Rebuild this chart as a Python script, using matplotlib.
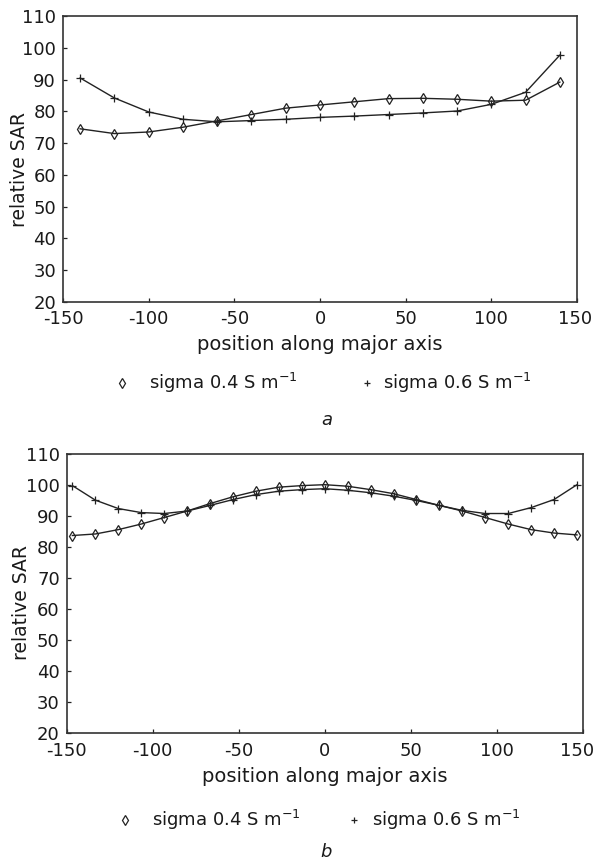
import matplotlib
matplotlib.use("Agg")
import matplotlib.pyplot as plt
from matplotlib.lines import Line2D
from matplotlib.transforms import ScaledTranslation

plt.rcParams['font.family'] = ['DejaVu Sans']

# ---- Panel a data ----
x_a = [-140, -120, -100, -80, -60, -40, -20, 0, 20, 40, 60, 80, 100, 120, 140]
sar_a_s04 = [74.5, 73.0, 73.5, 75.0, 77.0, 79.0, 81.0, 82.0, 83.0, 84.0, 84.1, 83.8, 83.2, 83.5, 89.2]
sar_a_s06 = [90.5, 84.2, 79.8, 77.5, 76.7, 77.1, 77.5, 78.1, 78.5, 79.0, 79.5, 80.1, 82.2, 86.0, 97.7]

# ---- Panel b data ----
x_b = [-146.7, -133.3, -120.0, -106.7, -93.3, -80.0, -66.7, -53.3, -40.0, -26.7, -13.3, 0.0,
       13.3, 26.7, 40.0, 53.3, 66.7, 80.0, 93.3, 106.7, 120.0, 133.3, 146.7]
sar_b_s04 = [83.8, 84.3, 85.7, 87.5, 89.6, 91.7, 94.1, 96.3, 98.1, 99.4, 99.9, 100.2,
             99.7, 98.6, 97.3, 95.4, 93.5, 91.7, 89.6, 87.5, 85.7, 84.6, 84.0]
sar_b_s06 = [99.9, 95.2, 92.5, 91.2, 90.9, 91.7, 93.5, 95.4, 97.0, 98.1, 98.6, 98.9,
             98.4, 97.6, 96.5, 95.1, 93.5, 91.9, 90.9, 90.9, 92.8, 95.4, 100.2]

xticks = [-150, -100, -50, 0, 50, 100, 150]
yticks = [20, 30, 40, 50, 60, 70, 80, 90, 100, 110]
legend_labels = ["sigma 0.4 S m$^{-1}$", "sigma 0.6 S m$^{-1}$"]
panel_labels = ["a", "b"]

W, H = 595, 861
fig = plt.figure(figsize=(W / 100, H / 100), dpi=100)

line_col = '#222222'
FS = 13


def px_box(l, t, r, b):
    return [l / W, 1 - b / H, (r - l) / W, (b - t) / H]


def style_axes(ax, last_shift):
    ax.set_xlim(-150, 150)
    ax.set_ylim(20, 110)
    ax.set_xticks(xticks)
    ax.set_yticks(yticks)
    ax.set_xticklabels([str(v) for v in xticks])
    ax.set_yticklabels([str(v) for v in yticks])
    ax.tick_params(direction='in', length=3, width=0.9, colors=line_col,
                   labelsize=FS, labelcolor='#1a1a1a', pad=5)
    ax.tick_params(axis='x', pad=6)
    for s in ax.spines.values():
        s.set_linewidth(1.2)
        s.set_color('#333333')
    lab = ax.get_xticklabels()[-1]
    lab.set_transform(lab.get_transform() +
                      ScaledTranslation(-last_shift / 100, 0, fig.dpi_scale_trans))


def draw_series(ax, x, y1, y2):
    ax.plot(x, y1, color=line_col, lw=1.0, marker='d', ms=5.5,
            mfc='none', mec=line_col, mew=0.9)
    ax.plot(x, y2, color=line_col, lw=1.0, marker='+', ms=6,
            mec=line_col, mew=0.9)


def fig_marker(xp, yp, marker, ms):
    fig.add_artist(Line2D([xp / W], [1 - yp / H], transform=fig.transFigure,
                          marker=marker, ms=ms, mfc='none', mec=line_col,
                          mew=0.9, linestyle='none'))


def fig_text(xp, yp, s, fs=FS, **kw):
    fig.text(xp / W, 1 - yp / H, s, fontsize=fs, color='#1a1a1a', **kw)


# ---- Panel a ----
ax1 = fig.add_axes(px_box(63, 16, 577, 302))
style_axes(ax1, 2)
draw_series(ax1, x_a, sar_a_s04, sar_a_s06)
fig_text(20, 170, "relative SAR", fs=13.5, rotation=90, ha='center', va='center')
fig_text(320, 345, "position along major axis", fs=14, ha='center', va='center')
fig_marker(122, 383, 'd', 5)
fig_text(149, 383, legend_labels[0], ha='left', va='center')
fig_marker(367, 383, '+', 5)
fig_text(383, 383, legend_labels[1], ha='left', va='center')
fig_text(327, 420, panel_labels[0], ha='center', va='center', style='italic')

# ---- Panel b ----
ax2 = fig.add_axes(px_box(66.7, 454.3, 582.7, 733.3))
style_axes(ax2, 6)
draw_series(ax2, x_b, sar_b_s04, sar_b_s06)
fig_text(22, 603, "relative SAR", fs=13.5, rotation=90, ha='center', va='center')
fig_text(325, 777, "position along major axis", fs=14, ha='center', va='center')
fig_marker(125, 820, 'd', 5)
fig_text(152, 820, legend_labels[0], ha='left', va='center')
fig_marker(354, 820, '+', 5)
fig_text(372, 820, legend_labels[1], ha='left', va='center')
fig_text(326, 852, panel_labels[1], ha='center', va='center', style='italic')

fig.savefig("out.png", dpi=100)
